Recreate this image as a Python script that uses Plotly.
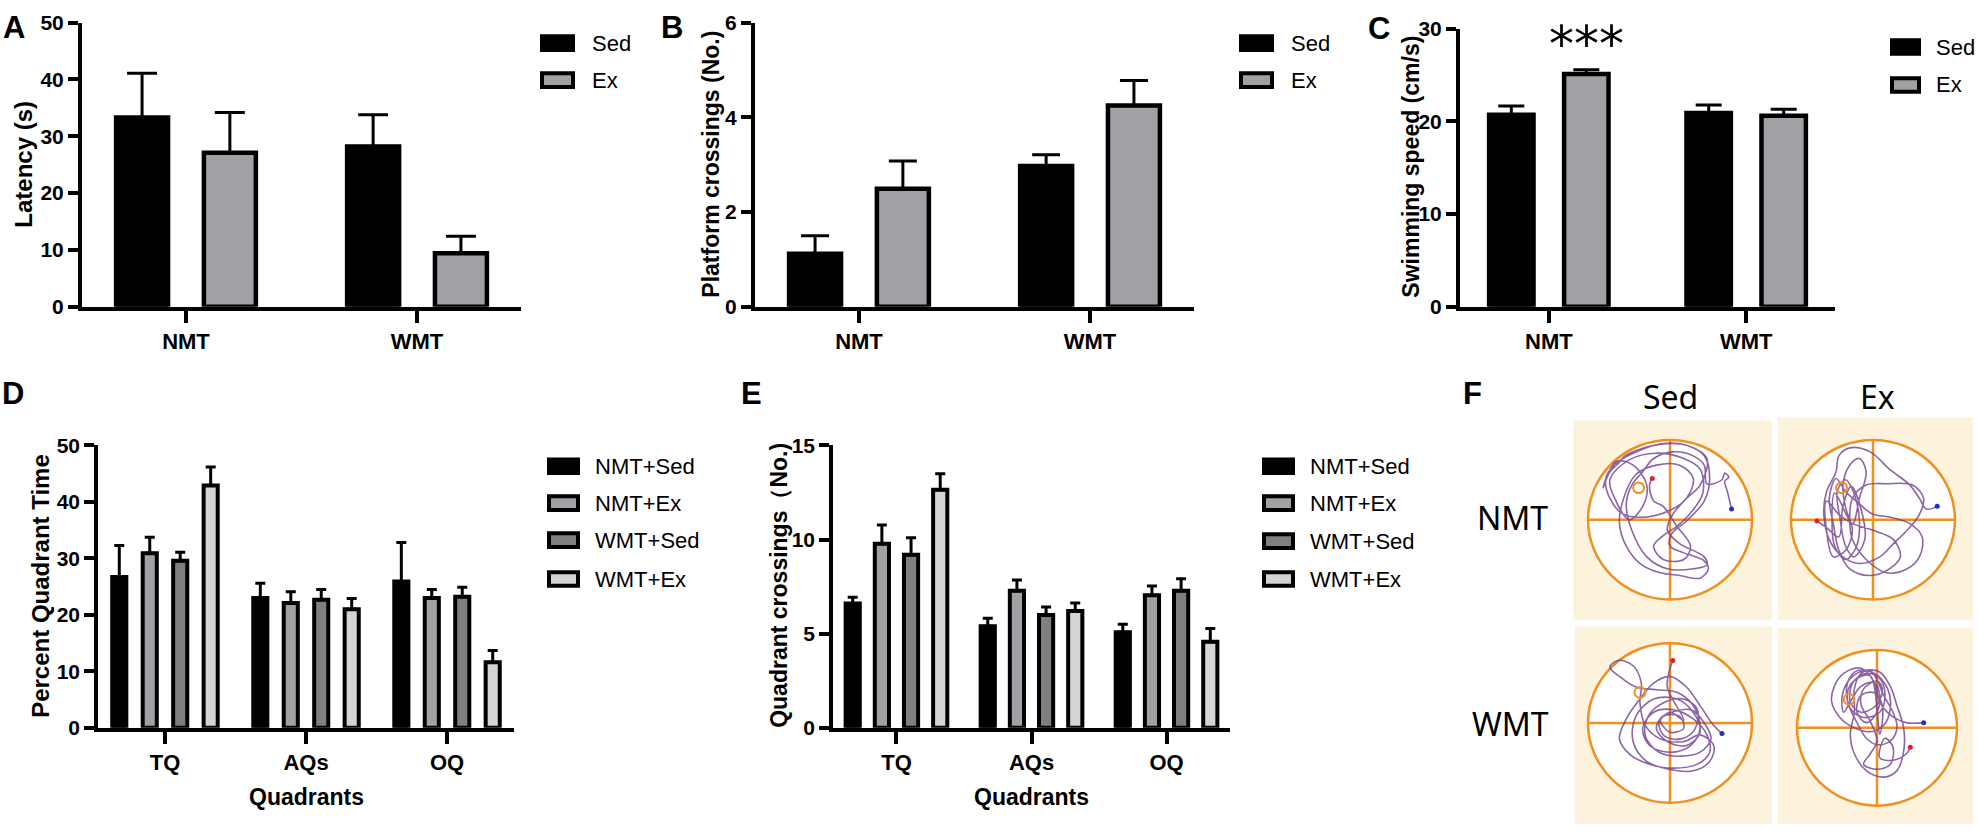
import plotly.graph_objects as go

# tamanho da pagina (px)
W, H = 1979, 839

#
#   dados
#
grupos = ['NMT', 'WMT']
quadrantes = ['TQ', 'AQs', 'OQ']

# A - latencia (s)
latencia_sed = [33.3, 28.2]
latencia_sed_sem = [7.8, 5.6]
latencia_ex = [27.1, 9.4]
latencia_ex_sem = [7.1, 3.0]

# B - cruzamentos da plataforma
plataforma_sed = [1.12, 2.97]
plataforma_sed_sem = [0.38, 0.24]
plataforma_ex = [2.49, 4.25]
plataforma_ex_sem = [0.59, 0.53]

# C - velocidade de natacao (cm/s)
velocidade_sed = [20.7, 20.9]
velocidade_sed_sem = [0.95, 0.85]
velocidade_ex = [25.1, 20.6]
velocidade_ex_sem = [0.45, 0.7]

# D - percentual de tempo no quadrante
tempo_nmt_sed = [26.7, 23.0, 25.9]
tempo_nmt_sed_sem = [5.6, 2.6, 6.9]
tempo_nmt_ex = [30.9, 22.1, 23.0]
tempo_nmt_ex_sem = [2.85, 2.0, 1.5]
tempo_wmt_sed = [29.6, 22.7, 23.2]
tempo_wmt_sed_sem = [1.5, 1.8, 1.7]
tempo_wmt_ex = [42.9, 21.0, 11.6]
tempo_wmt_ex_sem = [3.3, 1.9, 2.1]

# E - cruzamentos de quadrante
quad_nmt_sed = [6.6, 5.39, 5.08]
quad_nmt_sed_sem = [0.34, 0.43, 0.42]
quad_nmt_ex = [9.78, 7.28, 7.04]
quad_nmt_ex_sem = [1.0, 0.57, 0.5]
quad_wmt_sed = [9.2, 6.0, 7.28]
quad_wmt_sed_sem = [0.9, 0.42, 0.64]
quad_wmt_ex = [12.65, 6.21, 4.57]
quad_wmt_ex_sem = [0.85, 0.42, 0.71]

# F - trajetos de natacao (cm, centro da piscina = 0, raio 60)
trilha_nmt_sed = [(45, 8), (42, 21), (40, 29), (43, 32), (40, 35), (38, 30), (27, 27), (25, 41),
                  (17, 48), (2, 51), (-12, 46), (-20, 36), (-28, 26), (-32, 12), (-28, -8),
                  (-17, -28), (-2, -37), (17, -37), (27, -34), (25, -28), (7, -18), (-2, -8),
                  (2, 4), (12, 16), (22, 26), (27, 46), (12, 56), (-7, 57), (-27, 50), (-40, 42),
                  (-47, 31), (-44, 16), (-34, 4), (-17, 2), (0, 7), (12, 16), (17, 31), (7, 41),
                  (-10, 41), (-25, 34), (-34, 16), (-37, -3), (-32, -20), (-22, -33), (-7, -40),
                  (7, -42), (22, -44), (28, -37), (25, -31), (10, -25), (0, -20), (1, -11),
                  (12, -1), (25, 14), (29, 31), (25, 48), (12, 56), (-5, 57), (-22, 53), (-33, 48),
                  (-38, 42), (-44, 36), (-49, 24), (-46, 33), (-39, 44), (-27, 41), (-17, 26),
                  (-20, 10), (-30, 0), (-40, 15), (-44, 30), (-30, 45), (-10, 50), (10, 46),
                  (22, 38), (24, 20), (15, 5), (5, -5), (-5, -12), (-12, -20), (-5, -30),
                  (10, -30), (15, -20), (5, -5), (-5, 10),
                  (-12, 14), (-15, 26), (-13, 31)]
trilha_nmt_ex = [(47, 10), (39, 8), (34, 16), (27, 26), (12, 38), (-2, 51), (-17, 54), (-25, 48),
                 (-27, 36), (-34, 21), (-36, 4), (-32, -15), (-22, -28), (-10, -33), (5, -28),
                 (15, -18), (25, -8), (34, 4), (37, 16), (29, 26), (10, 27), (-5, 26), (-15, 16),
                 (-17, 2), (-15, -15), (-5, -30), (10, -40), (25, -37), (34, -28), (36, -13),
                 (27, -3), (12, 2), (0, 4), (-10, 12), (-20, 21), (-27, 31), (-32, 16), (-29, -3),
                 (-25, -23), (-17, -37), (-2, -42), (12, -37), (20, -28), (15, -15), (0, -8),
                 (-15, -3), (-25, 4), (-34, 14), (-34, -8), (-29, -28), (-20, -23), (-15, -8),
                 (-20, 9), (-22, 26), (-17, 41), (-10, 46), (-5, 36), (-10, 16), (-15, -3),
                 (-28, 20), (-30, 0), (-28, -20), (-20, -30), (-12, -20), (-10, 0), (-14, 20),
                 (-20, 30), (-26, 22), (-24, 0), (-20, -20), (-14, -28), (-6, -15), (-8, 5),
                 (-16, 25), (-22, 10),
                 (-25, -13), (-34, -6), (-41, -1)]
trilha_wmt_sed = [(38, -8), (32, -2), (22, 13), (12, 27), (0, 35), (-12, 30), (-22, 18), (-32, 3),
                  (-37, -12), (-29, -24), (-15, -31), (2, -34), (20, -31), (29, -22), (27, -9),
                  (17, 3), (2, 10), (-12, 8), (-20, -4), (-15, -17), (0, -22), (15, -17), (22, -4),
                  (17, 13), (5, 23), (-10, 25), (-25, 27), (-37, 35), (-44, 42), (-38, 47),
                  (-27, 43), (-21, 30), (-22, 15), (-18, -2), (-7, -12), (10, -14), (22, -9),
                  (32, -17), (29, -29), (17, -36), (0, -35), (-17, -29), (-27, -14), (-25, 5),
                  (-12, 18), (5, 18), (17, 8), (22, -7), (12, -17), (-2, -14), (-10, -4), (-5, 5),
                  (7, 5), (10, -4), (0, -7), (-7, 3),
                  (15, 10), (25, 0), (30, -12), (22, -22), (8, -25), (-8, -22), (-18, -10),
                  (-16, 5), (-5, 15), (10, 18), (20, 10), (18, -5), (8, -12), (-4, -10), (-8, 0),
                  (0, 8), (10, 2),
                  (-2, 27), (0, 41), (2, 47)]
trilha_wmt_ex = [(35, 4), (22, 4), (10, 10), (2, 20), (-2, 35), (-12, 46), (-25, 42), (-32, 32),
                 (-34, 20), (-27, 7), (-17, 0), (-5, -3), (5, 2), (10, 15), (8, 30), (-2, 42),
                 (-15, 44), (-22, 35), (-22, 20), (-15, 4), (-8, -8), (0, -13), (10, -10),
                 (15, 0), (12, 12), (5, 25), (0, 37), (-5, 44), (-12, 42), (-17, 30), (-17, 12),
                 (-20, -5), (-17, -20), (-8, -33), (5, -38), (15, -33), (20, -18), (20, 0),
                 (15, 17), (10, 32), (2, 43), (-10, 44), (-20, 38), (-26, 25), (-25, 12),
                 (-19, 22), (-12, 32), (-2, 35), (2, 25), (0, 12), (-8, 4), (-15, 12), (-12, 25),
                 (-2, 27), (4, 17), (2, -5),
                 (-5, 40), (-15, 38), (-22, 28), (-20, 15), (-10, 8), (2, 12), (6, 25), (2, 38),
                 (-8, 42), (-18, 35), (-20, 20), (-12, 12), (0, 18), (4, 30), (0, 36), (-10, 30),
                 (-12, 18), (-5, 5), (0, -10), (-5, -20), (-10, -28), (0, -32), (10, -28),
                 (12, -15), (6, -8),
                 (2, -23), (12, -25), (22, -20), (25, -15)]

# plataforma escondida (cm)
plataforma_x = [-23, -23, -22, -21]
plataforma_y = [24, 24, 23, 22]

# cores
PRETO = 'black'
CINZA_EX = '#a1a1a5'
CINZA_ESCURO = '#7f7f7f'
CINZA_CLARO = '#d4d4d4'
LARANJA = '#f0901e'
ROXO = 'rgba(112,62,145,0.8)'
CREME = '#fdf3dd'

FONTE = 'Liberation Sans, Arial, sans-serif'


#
#   conversao de pixels para coordenadas do papel
#
def px(x):
    return x / W

def py(y):
    return 1 - y / H

def dom_x(esq, dir):
    return [esq / W, dir / W]

def dom_y(topo, base):
    return [1 - base / H, 1 - topo / H]


def barras(fig, n, categorias, valores, sem, cor, centro, largura, cap, lw):
    suf = '' if n == 1 else str(n)
    fig.add_trace(go.Bar(
        x=categorias, y=valores, xaxis='x' + suf, yaxis='y' + suf,
        offset=centro - largura / 2, width=largura,
        marker=dict(color=cor, line=dict(color='black', width=lw)),
        error_y=dict(type='data', array=sem, arrayminus=[0] * len(sem), symmetric=False,
                     color='black', thickness=3, width=cap),
        showlegend=False, hoverinfo='skip'))


def eixos_barras(fig, n, dx, dy, xrange, yrange, ytick, lw):
    suf = '' if n == 1 else str(n)
    fig.update_layout(**{
        'xaxis' + suf: dict(domain=dx, anchor='y' + suf, type='category', range=xrange,
                            showline=True, linecolor='black', linewidth=lw,
                            ticks='outside', ticklen=12, tickwidth=lw, tickcolor='black',
                            tickfont=dict(family=FONTE, size=22, color='black', weight='bold'),
                            showgrid=False, zeroline=False, fixedrange=True),
        'yaxis' + suf: dict(domain=dy, anchor='x' + suf, range=yrange, tickvals=ytick,
                            showline=True, linecolor='black', linewidth=lw,
                            ticks='outside', ticklen=10, tickwidth=lw, tickcolor='black',
                            tickfont=dict(family=FONTE, size=21, color='black', weight='bold'),
                            showgrid=False, zeroline=False, fixedrange=True),
    })


def texto(x, y, t, size, bold=False, angle=0, anchor='center', family=FONTE):
    return dict(x=px(x), y=py(y), xref='paper', yref='paper', text=t, showarrow=False,
                xanchor=anchor, yanchor='middle', textangle=angle,
                font=dict(family=family, size=size, color='black',
                          weight='bold' if bold else 'normal'))


def legenda(shapes, anots, x0, x1, xt, linhas, rotulos, cores):
    for y, rot, cor in zip(linhas, rotulos, cores):
        shapes.append(dict(type='rect', xref='paper', yref='paper',
                           x0=px(x0), x1=px(x1), y0=py(y + 7), y1=py(y - 7),
                           fillcolor=cor, line=dict(color='black', width=4)))
        anots.append(texto(xt, y, rot, 22, anchor='left'))


fig = go.Figure()
shapes = []
anots = []

#
#   A, B, C - duas barras por grupo
#
paineis = [
    (1, latencia_sed, latencia_sed_sem, latencia_ex, latencia_ex_sem, 15),
    (2, plataforma_sed, plataforma_sed_sem, plataforma_ex, plataforma_ex_sem, 14),
    (3, velocidade_sed, velocidade_sed_sem, velocidade_ex, velocidade_ex_sem, 13),
]
for n, sed, sed_sem, ex, ex_sem, cap in paineis:
    barras(fig, n, grupos, sed, sed_sem, PRETO, -0.19, 0.225, cap, 4.5)
    barras(fig, n, grupos, ex, ex_sem, CINZA_EX, 0.19, 0.225, cap, 4.5)

eixos_barras(fig, 1, dom_x(82, 521), dom_y(11, 303), [-0.45, 1.45], [0, 50], [0, 10, 20, 30, 40, 50], 4)
eixos_barras(fig, 2, dom_x(755, 1194), dom_y(11, 303), [-0.45, 1.45], [0, 6], [0, 2, 4, 6], 4)
eixos_barras(fig, 3, dom_x(1460, 1835), dom_y(17, 303), [-0.45, 1.45], [0, 30], [0, 10, 20, 30], 4)

#
#   D, E - quatro barras por quadrante
#
rotulos_4 = ['NMT+Sed', 'NMT+Ex', 'WMT+Sed', 'WMT+Ex']
cores_4 = [PRETO, CINZA_EX, CINZA_ESCURO, CINZA_CLARO]
centros_4 = [-0.324, -0.108, 0.108, 0.324]

series_d = [(tempo_nmt_sed, tempo_nmt_sed_sem), (tempo_nmt_ex, tempo_nmt_ex_sem),
            (tempo_wmt_sed, tempo_wmt_sed_sem), (tempo_wmt_ex, tempo_wmt_ex_sem)]
series_e = [(quad_nmt_sed, quad_nmt_sed_sem), (quad_nmt_ex, quad_nmt_ex_sem),
            (quad_wmt_sed, quad_wmt_sed_sem), (quad_wmt_ex, quad_wmt_ex_sem)]
for (v, s), cor, c in zip(series_d, cores_4, centros_4):
    barras(fig, 4, quadrantes, v, s, cor, c, 0.1, 5, 4)
for (v, s), cor, c in zip(series_e, cores_4, centros_4):
    barras(fig, 5, quadrantes, v, s, cor, c, 0.105, 5, 4)

eixos_barras(fig, 4, dom_x(98, 514), dom_y(445.7, 736), [-0.475, 2.475], [0, 50], [0, 10, 20, 30, 40, 50], 3.5)
eixos_barras(fig, 5, dom_x(833, 1230), dom_y(445.7, 736), [-0.47, 2.47], [0, 15], [0, 5, 10, 15], 3.5)

# titulos dos eixos
anots.append(texto(24, 157, 'Latency (s)', 24, bold=True, angle=-90))
anots.append(texto(711, 157, 'Platform crossings (No.)', 23, bold=True, angle=-90))
anots.append(texto(1411, 159, 'Swimming speed (cm/s)', 23, bold=True, angle=-90))
anots.append(texto(41, 590, 'Percent Quadrant Time', 24, bold=True, angle=-90))
anots.append(texto(779, 590, 'Quadrant crossings（No.)', 23, bold=True, angle=-90))
anots.append(texto(306, 807, 'Quadrants', 23, bold=True))
anots.append(texto(1031, 807, 'Quadrants', 23, bold=True))

# letras dos paineis
for letra, x, y in [('A', 14, 16), ('B', 672, 16), ('C', 1379, 17),
                    ('D', 13, 392), ('E', 751, 392), ('F', 1472, 392)]:
    anots.append(texto(x, y, letra, 31, bold=True))

# significancia no painel C
anots.append(dict(x=0.19, y=28.3, xref='x3', yref='y3', text='***', showarrow=False,
                  xanchor='center', yanchor='middle',
                  font=dict(family='DejaVu Sans', size=50, color='black')))

# legendas
legenda(shapes, anots, 542, 573, 590, [32, 70], ['Sed', 'Ex'], [PRETO, CINZA_EX])
legenda(shapes, anots, 1241, 1272, 1289, [32, 70], ['Sed', 'Ex'], [PRETO, CINZA_EX])
legenda(shapes, anots, 1892, 1919, 1934, [36, 75], ['Sed', 'Ex'], [PRETO, CINZA_EX])
legenda(shapes, anots, 549, 578, 593, [467, 505, 543, 583], rotulos_4, cores_4)
legenda(shapes, anots, 1264, 1293, 1308, [467, 505, 544, 583], rotulos_4, cores_4)

#
#   F - trajetos na piscina
#
FONTE_F = 'Noto Sans, Open Sans, sans-serif'
anots.append(texto(1670, 395, 'Sed', 32, family=FONTE_F))
anots.append(texto(1877, 395, 'Ex', 32, family=FONTE_F))
anots.append(texto(1512, 520, 'NMT', 32, family=FONTE_F))
anots.append(texto(1510, 732, 'WMT', 32, family=FONTE_F))

quadros = [
    # n, trilha, (esq, dir, topo, base), xrange, yrange
    (6, trilha_nmt_sed, (1573, 1772, 420, 625), [-71, 74.6], [-75.4, 74.6]),
    (7, trilha_nmt_ex, (1778, 1973, 417, 625), [-69.5, 73.2], [-75.4, 76.8]),
    (8, trilha_wmt_sed, (1575, 1772, 632, 835), [-69.5, 74.6], [-76.1, 72.4]),
    (9, trilha_wmt_ex, (1778, 1973, 633, 835), [-74.25, 72], [-74.25, 77.25]),
]
for i, (n, trilha, caixa, xr, yr) in enumerate(quadros):
    esq, dir, topo, base = caixa
    sx, sy = 'x' + str(n), 'y' + str(n)
    fig.update_layout(**{
        'xaxis' + str(n): dict(domain=dom_x(esq, dir), anchor=sy, range=xr, visible=False, fixedrange=True),
        'yaxis' + str(n): dict(domain=dom_y(topo, base), anchor=sx, range=yr, visible=False, fixedrange=True),
    })
    shapes.append(dict(type='rect', xref=sx + ' domain', yref=sy + ' domain', x0=0, x1=1, y0=0, y1=1,
                       fillcolor=CREME, line=dict(width=0), layer='below'))
    shapes.append(dict(type='circle', xref=sx, yref=sy, x0=-60, x1=60, y0=-60, y1=60,
                       fillcolor='white', line=dict(color=LARANJA, width=2.5), layer='below'))
    shapes.append(dict(type='line', xref=sx, yref=sy, x0=0, x1=0, y0=-60, y1=60,
                       line=dict(color=LARANJA, width=2.5), layer='below'))
    shapes.append(dict(type='line', xref=sx, yref=sy, x0=-60, x1=60, y0=0, y1=0,
                       line=dict(color=LARANJA, width=2.5), layer='below'))
    shapes.append(dict(type='circle', xref=sx, yref=sy,
                       x0=plataforma_x[i] - 4, x1=plataforma_x[i] + 4,
                       y0=plataforma_y[i] - 4, y1=plataforma_y[i] + 4,
                       line=dict(color=LARANJA, width=2)))

    tx = [p[0] for p in trilha]
    ty = [p[1] for p in trilha]
    fig.add_trace(go.Scatter(x=tx, y=ty, xaxis=sx, yaxis=sy, mode='lines',
                             line=dict(color=ROXO, width=1.6, shape='spline', smoothing=1),
                             showlegend=False, hoverinfo='skip'))
    # inicio (azul) e fim (vermelho)
    fig.add_trace(go.Scatter(x=[tx[0], tx[-1]], y=[ty[0], ty[-1]], xaxis=sx, yaxis=sy, mode='markers',
                             marker=dict(color=['#2030c0', '#e0202a'], size=5),
                             showlegend=False, hoverinfo='skip'))

fig.update_layout(
    width=W, height=H,
    margin=dict(l=0, r=0, t=0, b=0),
    paper_bgcolor='white', plot_bgcolor='rgba(0,0,0,0)',
    barmode='overlay',
    showlegend=False,
    shapes=shapes,
    annotations=anots,
    font=dict(family=FONTE, color='black'),
)

# sem margem na pagina e sem barra de ferramentas
fig.write_html("out.html", config={'displayModeBar': False},
               post_script="document.body.style.margin='0';document.documentElement.style.overflow='hidden';")
